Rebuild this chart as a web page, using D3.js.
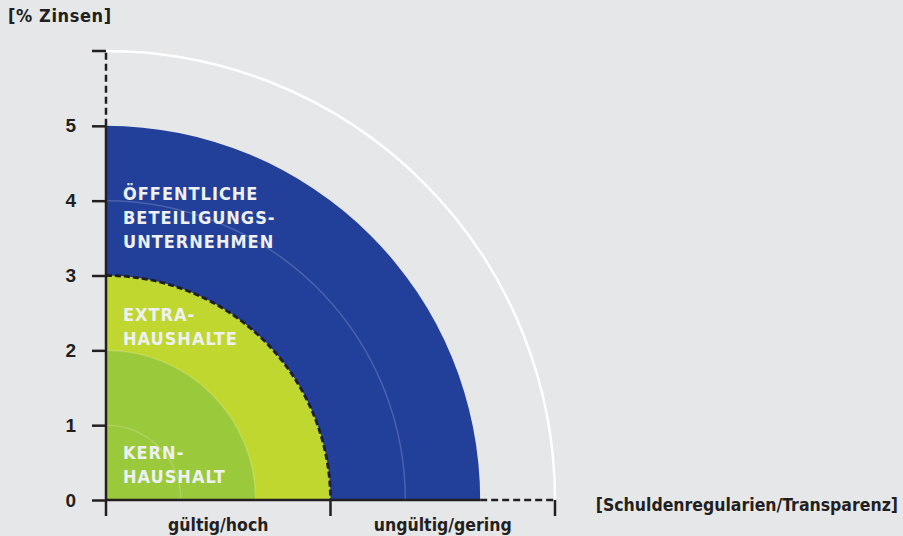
<!DOCTYPE html>
<html>
<head>
<meta charset="utf-8">
<script src="https://cdn.jsdelivr.net/npm/d3@7"></script>
<style>
  html, body { margin: 0; padding: 0; background: #e6e7e9; }
  svg { display: block; font-family: "Liberation Sans Narrow", "DejaVu Sans Condensed", sans-serif; font-weight: bold; }
  .tick-label { font-size: 19px; fill: #231f20; }
  .axis-title { font-size: 17.5px; fill: #231f20; }
  .y-title { font-size: 18px; fill: #231f20; letter-spacing: 0.6px; }
  .ring-label { font-size: 18px; fill: #eef0f2; letter-spacing: 1px; }
</style>
</head>
<body>
<div class="chart"></div>
<script>
// values
const yTicks = [0, 1, 2, 3, 4, 5];
const ringNames = ['Kernhaushalt', 'Extrahaushalte', 'Öffentliche Beteiligungsunternehmen'];
const ringRadii = [2, 3, 5];
const ringLabels = [['KERN-', 'HAUSHALT'], ['EXTRA-', 'HAUSHALTE'], ['ÖFFENTLICHE', 'BETEILIGUNGS-', 'UNTERNEHMEN']];
const guideRadii = [1, 2, 4];
const outerRadius = 6;
const xCategories = ['gültig/hoch', 'ungültig/gering'];
const xBounds = [0, 3, 6];
const yTitle = '[% Zinsen]';
const xTitle = '[Schuldenregularien/Transparenz]';

const width = 903, height = 536;
const origin = {x: 106, y: 500};
const ringColors = ['#9bc93c', '#c0d72f', '#22409a'];
const ink = '#231f20';

const r = d3.scaleLinear().domain([0, outerRadius]).range([0, 449]);
const x = d3.scaleLinear().domain([0, outerRadius]).range([origin.x, origin.x + 449]);
const y = d3.scaleLinear().domain([0, outerRadius]).range([origin.y, origin.y - 449]);

const svg = d3.select('.chart').append('svg')
    .attr('width', width)
    .attr('height', height);

const quarter = d3.arc().startAngle(0).endAngle(Math.PI / 2);

const plot = svg.append('g')
    .attr('transform', `translate(${origin.x},${origin.y})`);

// rings, largest first
const order = d3.range(ringRadii.length).reverse();
plot.selectAll('.ring')
  .data(order)
  .enter().append('path')
    .attr('class', 'ring')
    .attr('fill', i => ringColors[i])
    .attr('d', i => quarter({innerRadius: 0, outerRadius: r(ringRadii[i])}));

// faint guide arcs
const openArc = rad => {
  const p = d3.path();
  p.arc(0, 0, r(rad), -Math.PI / 2, 0);
  return p.toString();
};
plot.selectAll('.guide')
  .data(guideRadii)
  .enter().append('path')
    .attr('class', 'guide')
    .attr('fill', 'none')
    .attr('stroke', '#ffffff')
    .attr('stroke-opacity', 0.18)
    .attr('stroke-width', 1.5)
    .attr('d', openArc);

// outer white arc
plot.append('path')
    .attr('fill', 'none')
    .attr('stroke', '#ffffff')
    .attr('stroke-width', 2.5)
    .attr('d', openArc(outerRadius));

// dashed border of extrahaushalte
plot.append('path')
    .attr('fill', 'none')
    .attr('stroke', ink)
    .attr('stroke-width', 2.8)
    .attr('stroke-dasharray', '6,3')
    .attr('d', openArc(ringRadii[1]));

// axes
const maxRing = d3.max(ringRadii);
const axes = svg.append('g').attr('stroke', ink).attr('stroke-width', 2.5);
axes.append('line')
    .attr('x1', x(0)).attr('x2', x(0))
    .attr('y1', y(0)).attr('y2', y(maxRing));
axes.append('line')
    .attr('x1', x(0)).attr('x2', x(0))
    .attr('y1', y(maxRing)).attr('y2', y(outerRadius))
    .attr('stroke-dasharray', '7,4');
axes.append('line')
    .attr('x1', x(0) - 14).attr('x2', x(0))
    .attr('y1', y(outerRadius)).attr('y2', y(outerRadius));
axes.append('line')
    .attr('x1', x(0)).attr('x2', x(maxRing))
    .attr('y1', y(0)).attr('y2', y(0));
axes.append('line')
    .attr('x1', x(maxRing)).attr('x2', x(outerRadius))
    .attr('y1', y(0)).attr('y2', y(0))
    .attr('stroke-dasharray', '7,4');

axes.selectAll('.xtick')
  .data(xBounds)
  .enter().append('line')
    .attr('class', 'xtick')
    .attr('x1', d => x(d)).attr('x2', d => x(d))
    .attr('y1', y(0)).attr('y2', y(0) + 16);

const yAxis = svg.append('g')
    .attr('transform', `translate(${x(0)},0)`)
    .call(d3.axisLeft(y).tickValues(yTicks).tickFormat(d3.format('d')).tickSize(14).tickPadding(16));
yAxis.select('.domain').remove();
yAxis.selectAll('.tick line').attr('stroke', ink).attr('stroke-width', 2.5);
yAxis.selectAll('.tick text')
    .attr('class', 'tick-label')
    .attr('font-family', null)
    .attr('font-size', null)
    .attr('fill', null);

// category labels
svg.selectAll('.cat')
  .data(xCategories)
  .enter().append('text')
    .attr('class', 'axis-title')
    .attr('text-anchor', 'middle')
    .attr('x', (d, i) => (x(xBounds[i]) + x(xBounds[i + 1])) / 2)
    .attr('y', 531)
    .text(d => d);

svg.append('text')
    .attr('class', 'y-title')
    .attr('x', 8).attr('y', 22)
    .text(yTitle);

svg.append('text')
    .attr('class', 'axis-title')
    .attr('text-anchor', 'end')
    .attr('x', 898).attr('y', 511)
    .text(xTitle);

// ring labels (baseline of last line, in data units)
const labelBase = [0.23, 2.07, 3.37];
const lineStep = 24;
ringLabels.forEach((lines, i) => {
  const t = svg.append('text')
      .attr('class', 'ring-label')
      .attr('x', 123);
  lines.forEach((line, j) => {
    t.append('tspan')
        .attr('x', 123)
        .attr('y', y(labelBase[i]) - (lines.length - 1 - j) * lineStep)
        .text(line);
  });
});
</script>
</body>
</html>
